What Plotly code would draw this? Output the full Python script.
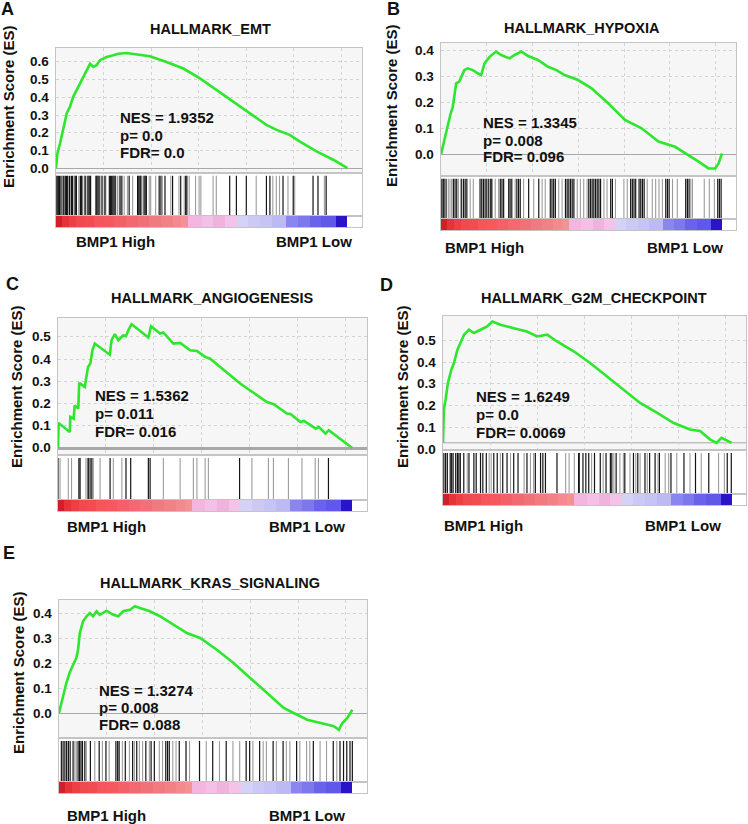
import plotly.graph_objects as go

# ---------------- DATA ----------------
TITLES = ["HALLMARK_EMT", "HALLMARK_HYPOXIA", "HALLMARK_ANGIOGENESIS",
          "HALLMARK_G2M_CHECKPOINT", "HALLMARK_KRAS_SIGNALING"]
LETTERS = ["A", "B", "C", "D", "E"]
NES = ["1.9352", "1.3345", "1.5362", "1.6249", "1.3274"]
PVAL = ["0.0", "0.008", "0.011", "0.0", "0.008"]
FDR = ["0.0", "0.096", "0.016", "0.0069", "0.088"]
LOW_LABEL = "BMP1 Low"
HIGH_LABEL = "BMP1 High"
Y_TITLE = "Enrichment Score (ES)"

# rank position in per-mille of the ranked gene list, running enrichment score
ES_A_X = [0, 5, 14, 25, 37, 48, 59, 77, 94, 107, 117, 128, 139, 151, 174, 197, 214, 242, 277, 322,
          379, 437, 494, 551, 608, 665, 722, 757, 802, 837, 894, 951, 1000]
ES_A_Y = [0.0, 0.084, 0.14, 0.216, 0.31, 0.347, 0.403, 0.46, 0.516, 0.563, 0.59, 0.572, 0.582, 0.61,
          0.628, 0.638, 0.647, 0.651, 0.642, 0.632, 0.60, 0.563, 0.507, 0.441, 0.375, 0.31, 0.244,
          0.216, 0.188, 0.15, 0.094, 0.047, 0.0]

ES_B_X = [0, 6, 14, 24, 33, 42, 48, 54, 65, 74, 83, 95, 113, 131, 143, 155, 173, 196, 214, 244, 262,
          286, 310, 345, 381, 411, 440, 488, 536, 595, 655, 714, 774, 833, 881, 917, 952, 976, 988, 1000]
ES_B_Y = [0.0, 0.029, 0.068, 0.106, 0.151, 0.183, 0.221, 0.272, 0.279, 0.304, 0.323, 0.33, 0.323,
          0.311, 0.304, 0.349, 0.374, 0.394, 0.381, 0.368, 0.381, 0.394, 0.377, 0.362, 0.336, 0.323,
          0.304, 0.285, 0.253, 0.196, 0.132, 0.10, 0.049, 0.029, -0.003, -0.028, -0.054, -0.054,
          -0.035, 0.004]

ES_C_X = [0, 2, 40, 42, 53, 57, 69, 72, 91, 97, 102, 110, 117, 125, 176, 182, 193, 205, 216, 222, 231,
          239, 250, 307, 316, 347, 358, 392, 415, 449, 472, 500, 517, 619, 710, 733, 778, 790, 824,
          836, 876, 886, 909, 920, 1000]
ES_C_Y = [0.0, 0.113, 0.072, 0.14, 0.132, 0.192, 0.177, 0.293, 0.275, 0.32, 0.365, 0.38, 0.44, 0.47,
          0.42, 0.485, 0.512, 0.485, 0.497, 0.507, 0.503, 0.53, 0.557, 0.497, 0.548, 0.515, 0.52,
          0.47, 0.473, 0.44, 0.437, 0.41, 0.402, 0.29, 0.207, 0.197, 0.155, 0.153, 0.117, 0.122,
          0.087, 0.095, 0.065, 0.08, 0.0]

ES_D_X = [0, 3, 9, 17, 29, 38, 50, 61, 73, 90, 107, 130, 153, 171, 199, 245, 291, 326, 361, 395,
          453, 510, 568, 626, 683, 741, 798, 856, 891, 925, 948, 965, 983, 1000]
ES_D_Y = [0.03, 0.183, 0.229, 0.305, 0.366, 0.396, 0.457, 0.488, 0.526, 0.549, 0.534, 0.549, 0.564,
          0.587, 0.572, 0.556, 0.541, 0.518, 0.526, 0.495, 0.45, 0.396, 0.335, 0.274, 0.213, 0.168,
          0.122, 0.091, 0.084, 0.046, 0.03, 0.053, 0.043, 0.03]

ES_E_X = [0, 5, 14, 25, 36, 48, 59, 65, 71, 82, 94, 105, 116, 128, 139, 162, 185, 202, 219, 242, 259,
          276, 310, 344, 390, 436, 481, 538, 595, 652, 709, 766, 800, 846, 892, 937, 954, 966, 983, 1000]
ES_E_Y = [0.0, 0.027, 0.067, 0.12, 0.16, 0.193, 0.22, 0.253, 0.32, 0.367, 0.387, 0.40, 0.387, 0.407,
          0.393, 0.409, 0.393, 0.387, 0.407, 0.413, 0.427, 0.42, 0.407, 0.387, 0.353, 0.32, 0.30,
          0.253, 0.20, 0.14, 0.08, 0.02, 0.0, -0.027, -0.04, -0.053, -0.067, -0.04, -0.02, 0.013]

# gene-set hit positions (per-mille of ranked list); strong and faint hits
HITS_A_DARK = [0, 4, 8, 12, 17, 25, 32, 36, 40, 46, 53, 57, 66, 70, 84, 88, 100, 110, 114, 118, 137,
               140, 144, 148, 158, 168, 183, 187, 191, 195, 199, 203, 220, 226, 251, 280, 284, 288,
               291, 302, 306, 310, 354, 360, 374, 400, 428, 445, 449, 596, 619, 653, 722, 734, 779,
               814, 882, 899, 927]
HITS_A_GRAY = [21, 29, 51, 63, 78, 82, 91, 97, 103, 108, 120, 154, 165, 171, 205, 211, 217, 234, 245,
               263, 295, 320, 325, 342, 365, 394, 422, 440, 457, 479, 491, 497, 539, 550, 687, 744,
               756, 767, 796, 819, 921]
HITS_B_DARK = [3, 8, 11, 18, 44, 50, 56, 72, 80, 86, 92, 139, 145, 151, 157, 163, 170, 177, 181, 211,
               217, 223, 241, 246, 252, 270, 276, 282, 312, 348, 389, 395, 401, 407, 443, 449, 455,
               461, 467, 473, 526, 532, 538, 544, 550, 556, 562, 568, 604, 610, 675, 681, 687, 693,
               705, 711, 717, 723, 800, 806, 812, 871, 877, 883, 985, 991, 997]
HITS_B_GRAY = [26, 32, 38, 62, 74, 104, 115, 193, 205, 264, 294, 330, 360, 371, 419, 431, 485, 496,
               508, 520, 580, 591, 621, 651, 663, 734, 752, 764, 776, 788, 824, 841, 889, 895, 937,
               955, 973]
HITS_C_DARK = [0, 71, 75, 103, 109, 115, 177, 231, 247, 307, 313, 617, 919]
HITS_C_GRAY = [7, 35, 46, 95, 100, 120, 143, 188, 217, 358, 415, 460, 472, 500, 511, 659, 715, 732,
               783, 829, 874, 885]
HITS_D_DARK = [3, 9, 15, 25, 30, 35, 44, 50, 55, 60, 72, 90, 107, 115, 130, 138, 150, 176, 188, 207,
               222, 245, 260, 291, 320, 338, 346, 355, 395, 470, 472, 485, 495, 505, 525, 545, 565,
               580, 585, 600, 630, 660, 675, 700, 716, 735, 750, 790, 835, 875, 921, 985, 999]
HITS_D_GRAY = [84, 160, 167, 199, 234, 281, 303, 314, 425, 437, 455, 515, 555, 592, 613, 625, 648,
               668, 683, 708, 745, 770, 782, 810, 856, 895, 955, 975]
HITS_E_DARK = [8, 14, 20, 26, 32, 38, 48, 65, 70, 75, 80, 88, 107, 137, 160, 194, 200, 205, 226, 251,
               265, 296, 314, 325, 364, 370, 376, 410, 433, 479, 524, 570, 638, 650, 684, 730, 764,
               810, 867, 935, 958, 970, 981, 992, 1000]
HITS_E_GRAY = [54, 59, 93, 122, 148, 171, 216, 240, 257, 274, 285, 308, 342, 353, 388, 399, 445, 502,
               547, 593, 616, 661, 696, 707, 741, 775, 787, 821, 844, 855, 890, 912, 947]

# ranked-list colour bins (edges in per-mille)
RANK_BIN_EDGES = [0, 20, 45, 70, 100, 130, 165, 200, 240, 280, 320, 360, 400, 430, 454, 500, 540,
                  580, 620, 660, 700, 740, 790, 830, 870, 910, 962, 1000]
Y_TICKS = [[0.0, 0.1, 0.2, 0.3, 0.4, 0.5, 0.6],
           [0.0, 0.1, 0.2, 0.3, 0.4],
           [0.0, 0.1, 0.2, 0.3, 0.4, 0.5],
           [0.0, 0.1, 0.2, 0.3, 0.4, 0.5],
           [0.0, 0.1, 0.2, 0.3, 0.4]]

ES_X = [ES_A_X, ES_B_X, ES_C_X, ES_D_X, ES_E_X]
ES_Y = [ES_A_Y, ES_B_Y, ES_C_Y, ES_D_Y, ES_E_Y]
HITS_DARK = [HITS_A_DARK, HITS_B_DARK, HITS_C_DARK, HITS_D_DARK, HITS_E_DARK]
HITS_GRAY = [HITS_A_GRAY, HITS_B_GRAY, HITS_C_GRAY, HITS_D_GRAY, HITS_E_GRAY]

# ---------------- STYLE / LAYOUT ----------------
BIN_COLORS = ["#d21e26", "#e6333a", "#ec3f46", "#f04950", "#f24c53", "#f5565c", "#f4595f", "#f26167",
              "#f26a70", "#f07178", "#f07a80", "#f28186", "#f48a8d", "#f39292", "#f2b6e0", "#f4c0e6",
              "#efb4dd", "#f3c4e8", "#d4d2f6", "#cccaf5", "#c6c4f4", "#bdbaf3", "#8a85ef", "#7e78ee",
              "#6a62ea", "#6058e8", "#2a14c8"]

W, H = 748, 824
XMAX = 1050
FONT = "Liberation Sans, Arial, sans-serif"

GEO = [
    dict(x0=56, x1=362, es=(48, 173), hit=(173, 216), grad=(216, 227), yr=(-0.028, 0.679),
         title=(210, 29), letter=(8, 9), ylab=(8, 107), nes=(118, [117, 135, 153]),
         hi=(115, 242), lo=(314, 242), zw=1),
    dict(x0=441, x1=736, es=(43, 176), hit=(176, 219), grad=(219, 230), yr=(-0.083, 0.427),
         title=(582, 28), letter=(393, 9), ylab=(391, 106), nes=(481, [123, 140, 157]),
         hi=(484, 248), lo=(685, 248), zw=1),
    dict(x0=58, x1=367, es=(318, 455), hit=(455, 500), grad=(500, 511), yr=(-0.0315, 0.585),
         title=(212, 298), letter=(12, 284), ylab=(16, 387), nes=(93, [395, 413, 431]),
         hi=(107, 526), lo=(307, 526), zw=2.5),
    dict(x0=443, x1=746, es=(316, 450), hit=(450, 494), grad=(494, 505), yr=(-0.003, 0.612),
         title=(594, 298), letter=(387, 285), ylab=(402, 387), nes=(474, [396, 414, 432]),
         hi=(483, 525), lo=(683, 525), zw=1),
    dict(x0=59, x1=367, es=(600, 738), hit=(738, 782), grad=(782, 793), yr=(-0.1, 0.452),
         title=(210, 583), letter=(9, 553), ylab=(18, 673), nes=(97, [690, 707, 724]),
         hi=(106, 815), lo=(307, 815), zw=1),
]


def fx(px):
    return px / W


def fy(py):
    return 1 - py / H


def sfx(n):
    return "" if n == 1 else str(n)


def segs(hits):
    xs, ys = [], []
    for h in hits:
        xs += [h, h, None]
        ys += [0, 1, None]
    return xs, ys


fig = go.Figure()
layout = {}
annotations = []
shapes = []
FRAME = "#c4c4c4"

centers = [(a + b) / 2 for a, b in zip(RANK_BIN_EDGES[:-1], RANK_BIN_EDGES[1:])]
widths = [b - a for a, b in zip(RANK_BIN_EDGES[:-1], RANK_BIN_EDGES[1:])]

for i, g in enumerate(GEO):
    n_es, n_hit, n_grad = i * 3 + 1, i * 3 + 2, i * 3 + 3
    s_es, s_hit, s_grad = sfx(n_es), sfx(n_hit), sfx(n_grad)
    xd = [fx(g["x0"]), fx(g["x1"])]
    for n, (top, bot) in [(n_es, g["es"]), (n_hit, g["hit"]), (n_grad, g["grad"])]:
        s = sfx(n)
        layout[f"xaxis{s}"] = dict(domain=xd, anchor=f"y{s}", range=[0, XMAX], showticklabels=False,
                                   ticks="", showline=True, mirror=True, linecolor=FRAME,
                                   linewidth=1, zeroline=False, showgrid=(n == n_es),
                                   gridcolor="#d4d4d4", griddash="dot", tick0=0, dtick=163,
                                   fixedrange=True, automargin=False)
        layout[f"yaxis{s}"] = dict(domain=[fy(bot), fy(top)], anchor=f"x{s}", showline=True,
                                   mirror=True, linecolor=FRAME, linewidth=1, fixedrange=True,
                                   automargin=False)
    # ES axis (gridlines on tick values; labels placed through the axis scale below)
    layout[f"yaxis{s_es}"].update(range=list(g["yr"]), tickmode="array", tickvals=Y_TICKS[i],
                                  showticklabels=False, ticks="",
                                  showgrid=True, gridcolor="#d4d4d4", griddash="dot",
                                  zeroline=(i != 3), zerolinecolor="#a8a8a8",
                                  zerolinewidth=g["zw"])
    layout[f"yaxis{s_hit}"].update(range=[0, 1.07], showticklabels=False, ticks="",
                                   showgrid=False, zeroline=False)
    layout[f"yaxis{s_grad}"].update(range=[0, 1], showticklabels=False, ticks="",
                                    showgrid=False, zeroline=False)

    bold = dict(family=FONT, color="#111", weight="bold")
    for v in Y_TICKS[i]:
        annotations.append(dict(text="%.1f" % v, x=fx(g["x0"] - 5), y=v, xref="paper",
                                yref=f"y{s_es}", xanchor="right", yanchor="middle",
                                showarrow=False, font=dict(size=13.5, **bold)))

    # ES background
    shapes.append(dict(type="rect", xref=f"x{s_es} domain", yref=f"y{s_es} domain",
                       x0=0, x1=1, y0=0, y1=1, fillcolor="#f6f6f6", line=dict(width=0),
                       layer="below"))
    if i == 3:
        shapes.append(dict(type="line", xref=f"x{s_es} domain", yref=f"y{s_es}",
                           x0=0, x1=1, y0=ES_Y[i][0], y1=ES_Y[i][0],
                           line=dict(color="#a8a8a8", width=1), layer="below"))

    # hits
    xs, ys = segs(HITS_GRAY[i])
    fig.add_trace(go.Scatter(x=xs, y=ys, mode="lines", line=dict(color="#9c9c9c", width=1.1),
                             xaxis=f"x{s_hit}", yaxis=f"y{s_hit}", hoverinfo="skip",
                             showlegend=False))
    xs, ys = segs(HITS_DARK[i])
    fig.add_trace(go.Scatter(x=xs, y=ys, mode="lines", line=dict(color="#141414", width=1.2),
                             xaxis=f"x{s_hit}", yaxis=f"y{s_hit}", hoverinfo="skip",
                             showlegend=False))

    # rank gradient
    fig.add_trace(go.Bar(x=centers, y=[1] * len(centers), width=widths,
                         marker=dict(color=BIN_COLORS, line=dict(width=0)),
                         xaxis=f"x{s_grad}", yaxis=f"y{s_grad}", hoverinfo="skip",
                         showlegend=False))

    # ES curve
    fig.add_trace(go.Scatter(x=ES_X[i], y=ES_Y[i], mode="lines",
                             line=dict(color="#2de62d", width=2.6),
                             xaxis=f"x{s_es}", yaxis=f"y{s_es}", hoverinfo="skip",
                             showlegend=False))

    annotations.append(dict(text=TITLES[i], x=fx(g["title"][0]), y=fy(g["title"][1]),
                            xref="paper", yref="paper", xanchor="center", yanchor="middle",
                            showarrow=False, font=dict(size=14.5, **bold)))
    annotations.append(dict(text=LETTERS[i], x=fx(g["letter"][0]), y=fy(g["letter"][1]),
                            xref="paper", yref="paper", xanchor="center", yanchor="middle",
                            showarrow=False, font=dict(size=18, **bold)))
    annotations.append(dict(text=Y_TITLE, x=fx(g["ylab"][0]), y=fy(g["ylab"][1]),
                            xref="paper", yref="paper", xanchor="center", yanchor="middle",
                            textangle=-90, showarrow=False, font=dict(size=15, **bold)))
    lines = [f"NES = {NES[i]}", f"p= {PVAL[i]}", f"FDR= {FDR[i]}"]
    for t, yy in zip(lines, g["nes"][1]):
        annotations.append(dict(text=t, x=fx(g["nes"][0]), y=fy(yy), xref="paper",
                                yref="paper", xanchor="left", yanchor="middle",
                                showarrow=False, font=dict(size=15, **bold)))
    annotations.append(dict(text=HIGH_LABEL, x=fx(g["hi"][0]), y=fy(g["hi"][1]), xref="paper",
                            yref="paper", xanchor="center", yanchor="middle", showarrow=False,
                            font=dict(size=15, **bold)))
    annotations.append(dict(text=LOW_LABEL, x=fx(g["lo"][0]), y=fy(g["lo"][1]), xref="paper",
                            yref="paper", xanchor="center", yanchor="middle", showarrow=False,
                            font=dict(size=15, **bold)))

fig.update_layout(width=W, height=H, margin=dict(l=0, r=0, t=0, b=0, autoexpand=False),
                  paper_bgcolor="white", plot_bgcolor="white", showlegend=False,
                  annotations=annotations, shapes=shapes, bargap=0,
                  font=dict(family=FONT), **layout)

fig.write_html("out.html", config={"displayModeBar": False},
               post_script="document.body.style.margin='0px';")
